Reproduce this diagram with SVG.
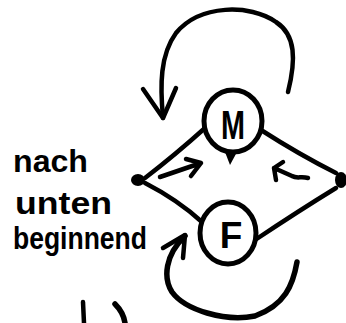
<svg xmlns="http://www.w3.org/2000/svg" width="346" height="323" viewBox="0 0 346 323">
<style>
.s{fill:none;stroke:#000;stroke-width:4.5;stroke-linecap:round;stroke-linejoin:round}
.t{stroke-width:5.5}
.c{fill:#fff;stroke:#000;stroke-width:5}
.lbl{font-family:"Liberation Sans",Arial,sans-serif;font-weight:bold;fill:#000}
.h{font-size:31px}
</style>
<rect width="346" height="323" fill="#fff"/>
<g id="connectors">
<path class="s" d="M145 178 Q175 155 205 128"/>
<path class="s" d="M145 183 Q178 200 202 222"/>
<path class="s" d="M261 130 Q300 155 336 173"/>
<path class="s" d="M255 240 Q300 210 336 188"/>
<path class="s" d="M160 177 L201 163 M186 159 L201 163 L191 176"/>
<path class="s" d="M308 178 C301 176 297 179 292 176 L274 168 M283 162 L274 168 L276 180"/>
<path class="s" d="M288 92 C296 60 296 35 276 22 C250 4 200 4 176 33 C160 55 160 85 163 118"/>
<path class="s" d="M143 89 L163 118 L176 88"/>
<path class="s t" d="M297 262 C293 285 285 305 255 316 C225 322 185 310 172 292 C163 278 165 255 185 236"/>
<path class="s" d="M163 248 L185 235 L183 258"/>
<path class="s" d="M83 302 L84 323"/>
<path class="s t" d="M115 304 C121 310 124 316 125 323"/>
</g>
<g id="node-M">
<ellipse class="c" cx="233" cy="121" rx="29" ry="31"/>
<path d="M225 152 L237 152 L230 165 Z" fill="#000"/>
<text class="lbl" x="233" y="139" font-size="40" text-anchor="middle" textLength="24" lengthAdjust="spacingAndGlyphs">M</text>
</g>
<g id="node-F">
<ellipse class="c" cx="228" cy="233" rx="28" ry="31"/>
<text class="lbl" x="231" y="248" font-size="37" text-anchor="middle">F</text>
</g>
<g id="dot-left"><ellipse cx="138" cy="180" rx="7" ry="6" fill="#000"/></g>
<g id="dot-right"><ellipse cx="341" cy="180" rx="6" ry="8" fill="#000"/></g>
<g id="label">
<text class="lbl h" x="13" y="172" textLength="75" lengthAdjust="spacingAndGlyphs">nach</text>
<text class="lbl h" x="15" y="214" textLength="97" lengthAdjust="spacingAndGlyphs">unten</text>
<text class="lbl h" x="13" y="249" textLength="134" lengthAdjust="spacingAndGlyphs">beginnend</text>
</g>
</svg>
